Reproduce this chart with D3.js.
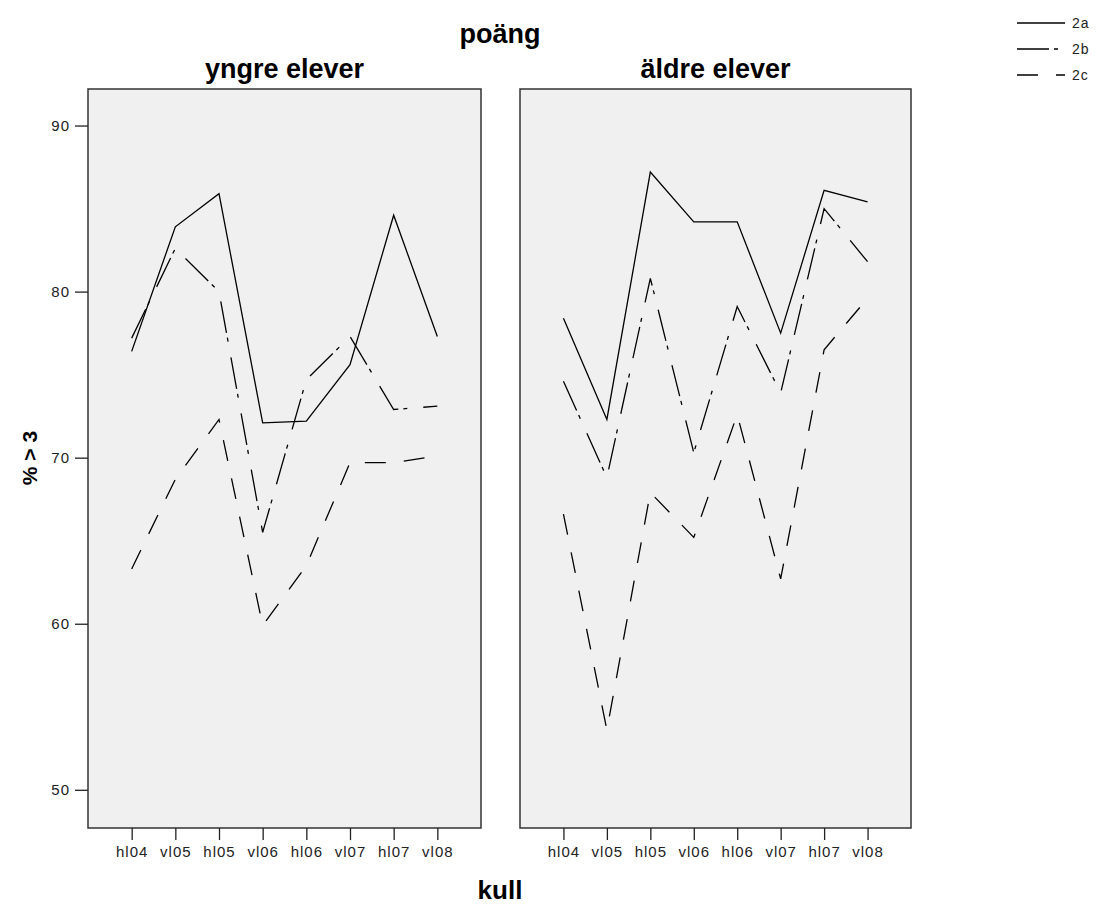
<!DOCTYPE html>
<html>
<head>
<meta charset="utf-8">
<script src="https://cdn.jsdelivr.net/npm/d3@7.9.0/dist/d3.min.js"></script>
<style>
  body { margin: 0; background: #fff; }
</style>
</head>
<body>
<div id="chart"></div>
<script>
// categories (kull)
const categories = ["hl04", "vl05", "hl05", "vl06", "hl06", "vl07", "hl07", "vl08"];

// yngre elever
const yngre2a = [76.4, 83.9, 85.9, 72.1, 72.2, 75.6, 84.6, 77.3];
const yngre2b = [77.2, 82.6, 80.0, 65.5, 74.7, 77.3, 72.9, 73.1];
const yngre2c = [63.3, 68.7, 72.3, 59.9, 63.5, 69.7, 69.7, 70.1];

// äldre elever
const aldre2a = [78.4, 72.3, 87.2, 84.2, 84.2, 77.5, 86.1, 85.4];
const aldre2b = [74.6, 68.8, 80.8, 70.3, 79.1, 73.9, 85.0, 81.8];
const aldre2c = [66.6, 53.6, 67.9, 65.2, 72.6, 62.7, 76.5, 79.6];

const yTicks = [50, 60, 70, 80, 90];
const seriesNames = ["2a", "2b", "2c"];
const panelTitles = ["yngre elever", "äldre elever"];

// dimensions
const width = 1102, height = 905;
const panelTop = 89, panelBottom = 828;
const panelX = [[88, 481], [520, 911]];
const dashes = [null, "32,5,4,16", "21,18"];

const svg = d3.select("#chart")
    .append("svg")
    .attr("width", width)
    .attr("height", height)
    .style("font-family", "'Liberation Sans', Arial, sans-serif");

const y = d3.scaleLinear()
    .domain([47.7, 92.2])
    .range([panelBottom, panelTop]);

const panelData = [
    [yngre2a, yngre2b, yngre2c],
    [aldre2a, aldre2b, aldre2c]
];

panelData.forEach((data, p) => {
    const [x0, x1] = panelX[p];
    const x = d3.scalePoint()
        .domain(categories)
        .range([x0, x1])
        .padding(1);

    // background
    svg.append("rect")
        .attr("x", x0)
        .attr("y", panelTop)
        .attr("width", x1 - x0)
        .attr("height", panelBottom - panelTop)
        .attr("fill", "#f0f0f0")
        .attr("stroke", "#333")
        .attr("stroke-width", 1.5);

    // x axis
    const xa = svg.append("g")
        .attr("transform", `translate(0,${panelBottom})`)
        .call(d3.axisBottom(x).tickSize(12).tickSizeOuter(0).tickPadding(6));
    xa.select(".domain").remove();
    xa.selectAll(".tick line").attr("stroke", "#222").attr("stroke-width", 1.3);
    xa.selectAll(".tick text")
        .attr("fill", "#222")
        .style("font-size", "15px")
        .style("letter-spacing", "1px");

    // y axis only on first panel
    if (p === 0) {
        const ya = svg.append("g")
            .attr("transform", `translate(${x0},0)`)
            .call(d3.axisLeft(y).tickValues(yTicks).tickSize(13).tickPadding(5));
        ya.select(".domain").remove();
        ya.selectAll(".tick line").attr("stroke", "#222").attr("stroke-width", 1.3);
        ya.selectAll(".tick text")
            .attr("fill", "#222")
            .style("font-size", "15px")
            .style("letter-spacing", "1px");
    }

    // lines
    const line = d3.line()
        .x((d, i) => x(categories[i]))
        .y(d => y(d));

    data.forEach((vals, s) => {
        svg.append("path")
            .datum(vals)
            .attr("fill", "none")
            .attr("stroke", "#000")
            .attr("stroke-width", 1.3)
            .attr("stroke-dasharray", dashes[s])
            .attr("d", line);
    });

    // panel title
    svg.append("text")
        .attr("x", (x0 + x1) / 2)
        .attr("y", 78)
        .attr("text-anchor", "middle")
        .attr("font-size", "27px")
        .attr("font-weight", "bold")
        .text(panelTitles[p]);
});

// title
svg.append("text")
    .attr("x", 500)
    .attr("y", 43)
    .attr("text-anchor", "middle")
    .attr("font-size", "27px")
    .attr("font-weight", "bold")
    .text("poäng");

// axis labels
svg.append("text")
    .attr("x", 500)
    .attr("y", 899)
    .attr("text-anchor", "middle")
    .attr("font-size", "26px")
    .attr("font-weight", "bold")
    .text("kull");

svg.append("text")
    .attr("transform", "rotate(-90)")
    .attr("x", -458)
    .attr("y", 37)
    .attr("text-anchor", "middle")
    .attr("font-size", "21px")
    .attr("font-weight", "bold")
    .text("% > 3");

// legend
const legend = svg.append("g")
    .attr("transform", "translate(1017, 0)");

seriesNames.forEach((name, i) => {
    const ly = 23 + i * 26;
    legend.append("line")
        .attr("x1", 0)
        .attr("x2", 48)
        .attr("y1", ly)
        .attr("y2", ly)
        .attr("stroke", "#000")
        .attr("stroke-width", 1.3)
        .attr("stroke-dasharray", dashes[i]);
    legend.append("text")
        .attr("x", 55)
        .attr("y", ly + 5)
        .attr("font-size", "14px")
        .attr("fill", "#222")
        .style("letter-spacing", "1px")
        .text(name);
});
</script>
</body>
</html>
